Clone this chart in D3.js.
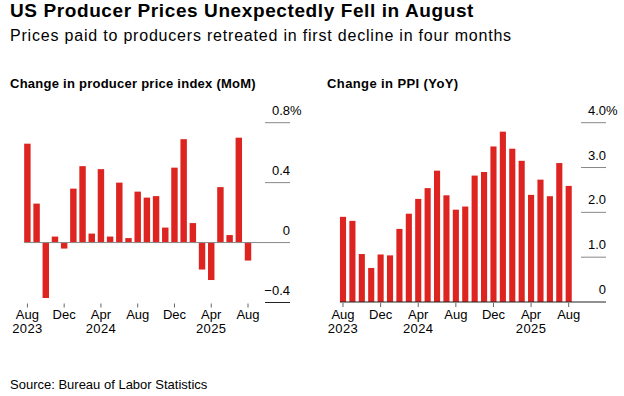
<!DOCTYPE html>
<html>
<head>
<meta charset="utf-8">
<script src="https://cdn.jsdelivr.net/npm/d3@7"></script>
<style>
  body { margin: 0; background: #fff; }
  svg text { font-family: "Liberation Sans", Arial, sans-serif; fill: #000; }
</style>
</head>
<body>
<svg id="chart" width="624" height="396"></svg>
<script>
// months Aug 2023 .. Aug 2025
const months = ["2023-08","2023-09","2023-10","2023-11","2023-12","2024-01","2024-02","2024-03",
  "2024-04","2024-05","2024-06","2024-07","2024-08","2024-09","2024-10","2024-11","2024-12",
  "2025-01","2025-02","2025-03","2025-04","2025-05","2025-06","2025-07","2025-08"];

// month over month change, %
const momValues = [0.66, 0.26, -0.37, 0.04, -0.04, 0.36, 0.51, 0.06, 0.49, 0.04, 0.40, 0.03,
  0.34, 0.30, 0.31, 0.10, 0.50, 0.69, 0.13, -0.18, -0.25, 0.37, 0.05, 0.70, -0.12];

// year over year change, %
const yoyValues = [1.90, 1.81, 1.07, 0.76, 1.06, 1.04, 1.63, 1.97, 2.30, 2.54, 2.93, 2.38,
  2.06, 2.13, 2.82, 2.90, 3.47, 3.80, 3.42, 3.15, 2.39, 2.73, 2.36, 3.10, 2.59];

// x tick labels: [month, label, year line]
const xTicks = [["2023-08","Aug","2023"],["2023-12","Dec",""],["2024-04","Apr","2024"],
  ["2024-08","Aug",""],["2024-12","Dec",""],["2025-04","Apr","2025"],["2025-08","Aug",""]];

const momTicks = [0.8, 0.4, 0, -0.4];
const yoyTicks = [4, 3, 2, 1, 0];

const red = "#dd2420";
const svg = d3.select("#chart");

svg.append("text").attr("x", 10).attr("y", 17)
  .style("font-size", "19px").style("font-weight", "bold").style("letter-spacing", "0.6px")
  .text("US Producer Prices Unexpectedly Fell in August");
svg.append("text").attr("x", 10).attr("y", 41)
  .style("font-size", "16px").style("letter-spacing", "0.8px")
  .text("Prices paid to producers retreated in first decline in four months");
svg.append("text").attr("x", 10).attr("y", 389)
  .style("font-size", "13px")
  .text("Source: Bureau of Labor Statistics");

function panel(opt){
  const g = svg.append("g");
  g.append("text").attr("x", opt.titleX).attr("y", 88)
    .style("font-size", "13px").style("font-weight", "bold")
    .style("letter-spacing", opt.titleSpacing).text(opt.title);

  const x = d3.scaleBand().domain(months).range(opt.xRange).paddingInner(opt.pad).paddingOuter(opt.pad / 2);
  const y = d3.scaleLinear().domain(opt.yDomain).range(opt.yRange);

  // bars
  g.selectAll("rect.bar").data(opt.values).enter().append("rect")
    .attr("class", "bar")
    .attr("x", (d, i) => x(months[i]))
    .attr("width", x.bandwidth())
    .attr("y", d => y(Math.max(0, d)))
    .attr("height", d => Math.abs(y(d) - y(0)))
    .attr("fill", red);

  // short gridlines + labels at right
  const lastTick = opt.ticks[opt.ticks.length - 1];
  opt.ticks.forEach(t => {
    const isBottom = t === lastTick;
    g.append("line").attr("x1", t === 0 ? x(months[0]) : opt.gridEnd - 25).attr("x2", opt.gridEnd)
      .attr("y1", y(t)).attr("y2", y(t))
      .attr("stroke", isBottom ? "#222" : "#888").attr("stroke-width", 1);
    g.append("text").attr("x", opt.gridEnd).attr("y", y(t) - 8)
      .attr("text-anchor", "end").style("font-size", "13px")
      .text(opt.fmt(t));
    if (t === opt.ticks[0]) {
      g.append("text").attr("x", opt.gridEnd).attr("y", y(t) - 8)
        .style("font-size", "13px").text("%");
    }
  });

  // x ticks
  const tickTop = y(opt.yDomain[0]) + 1;
  xTicks.forEach(tk => {
    const cx = x(tk[0]) + x.bandwidth() / 2;
    g.append("line").attr("x1", cx).attr("x2", cx).attr("y1", tickTop).attr("y2", tickTop + 4)
      .attr("stroke", "#666").attr("stroke-width", 1);
    g.append("text").attr("x", cx).attr("y", 319).attr("text-anchor", "middle")
      .style("font-size", "13px").text(tk[1]);
    if (tk[2]) {
      g.append("text").attr("x", cx).attr("y", 333).attr("text-anchor", "middle")
        .style("font-size", "13px").style("letter-spacing", "0.4px").text(tk[2]);
    }
  });
}

panel({
  title: "Change in producer price index (MoM)", titleX: 10, titleSpacing: "0.25px",
  values: momValues, ticks: momTicks,
  xRange: [22.8, 252.6], pad: 0.3,
  yDomain: [-0.4, 0.8], yRange: [302.5, 122.7],
  gridEnd: 290,
  fmt: t => t === 0 ? "0" : d3.format(".1f")(t)
});

panel({
  title: "Change in PPI (YoY)", titleX: 327, titleSpacing: "0.4px",
  values: yoyValues, ticks: yoyTicks,
  xRange: [338.3, 573.4], pad: 0.35,
  yDomain: [0, 4], yRange: [302, 122.7],
  gridEnd: 606,
  fmt: t => t === 0 ? "0" : d3.format(".1f")(t)
});
</script>
</body>
</html>
